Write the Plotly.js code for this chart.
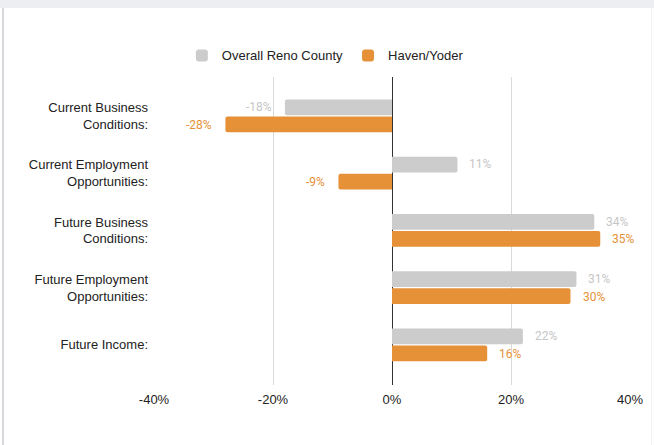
<!DOCTYPE html>
<html>
<head>
<meta charset="utf-8">
<script src="https://cdn.plot.ly/plotly-3.0.1.min.js"></script>
<style>
  html, body { margin: 0; padding: 0; background: #ffffff; }
  #wrap { position: relative; width: 654px; height: 445px; background: #ffffff; overflow: hidden; }
  #topband { position: absolute; left: 0; top: 0; width: 654px; height: 8px; background: #eceef1; }
  #leftline { position: absolute; left: 2px; top: 8px; width: 2px; height: 437px; background: #d6d8db; }
  #rightline { position: absolute; left: 651px; top: 8px; width: 1px; height: 437px; background: #f0f2f4; }
  #chart { position: absolute; left: 0; top: 8px; width: 654px; height: 437px; }
</style>
</head>
<body>
<div id="wrap">
  <div id="topband"></div>
  <div id="chart"></div>
  <div id="leftline"></div>
  <div id="rightline"></div>
</div>
<script>
var categories = [
  "Current Business<br>Conditions:",
  "Current Employment<br>Opportunities:",
  "Future Business<br>Conditions:",
  "Future Employment<br>Opportunities:",
  "Future Income:"
];
var seriesNames = ["Overall Reno County", "Haven/Yoder"];
var renoCounty = [-18, 11, 34, 31, 22];
var havenYoder = [-28, -9, 35, 30, 16];
var tickValues = [-40, -20, 0, 20, 40];
var tickLabels = ["-40%", "-20%", "0%", "20%", "40%"];

var grayColor = "#cccccc";
var orangeColor = "#e69138";
var grayText = "#c6c6c6";
var font = "Arial, 'Liberation Sans', sans-serif";

var idx = categories.map(function (c, i) { return i; });

var traces = [
  {
    type: "bar", orientation: "h", name: seriesNames[0],
    y: idx, x: renoCounty,
    marker: { color: grayColor, cornerradius: 2 },
    hoverinfo: "skip"
  },
  {
    type: "bar", orientation: "h", name: seriesNames[1],
    y: idx, x: havenYoder,
    marker: { color: orangeColor, cornerradius: 2 },
    hoverinfo: "skip"
  }
];

var annotations = [];
function addLabels(vals, offset, color) {
  vals.forEach(function (v, i) {
    annotations.push({
      x: v, y: i + offset, xref: "x", yref: "y",
      text: v + "%", showarrow: false,
      xanchor: v < 0 ? "right" : "left",
      xshift: v < 0 ? -11 : 10,
      font: { family: "Roboto, Arial, sans-serif", size: 12, color: color }
    });
  });
}
addLabels(renoCounty, -0.155, grayText);
addLabels(havenYoder, 0.155, orangeColor);

var layout = {
  width: 654, height: 437,
  margin: { l: 154, r: 24, t: 69, b: 60 },
  paper_bgcolor: "rgba(0,0,0,0)",
  plot_bgcolor: "#ffffff",
  barmode: "group",
  bargap: 0.406,
  bargroupgap: 0.08,
  font: { family: font, size: 13, color: "#222222" },
  showlegend: true,
  legend: {
    orientation: "h", x: 0.36, xanchor: "center", y: 1.07, yanchor: "middle",
    font: { family: font, size: 13, color: "#222222" },
    itemwidth: 30, traceorder: "normal"
  },
  xaxis: {
    range: [-40, 40], tickvals: tickValues, ticktext: tickLabels,
    showgrid: true, gridcolor: "#d9d9d9", gridwidth: 1,
    zeroline: true, zerolinecolor: "#333333", zerolinewidth: 1,
    showline: false, ticks: "", ticklabelstandoff: 5,
    tickfont: { family: font, size: 13, color: "#222222" },
    fixedrange: true
  },
  yaxis: {
    range: [4.70, -0.68],
    tickvals: idx, ticktext: categories,
    showgrid: false, zeroline: false, showline: false, ticks: "",
    ticklabelstandoff: 5,
    tickfont: { family: font, size: 13, color: "#222222" },
    fixedrange: true
  },
  annotations: annotations
};

Plotly.newPlot("chart", traces, layout, { displayModeBar: false, staticPlot: true });
</script>
</body>
</html>
